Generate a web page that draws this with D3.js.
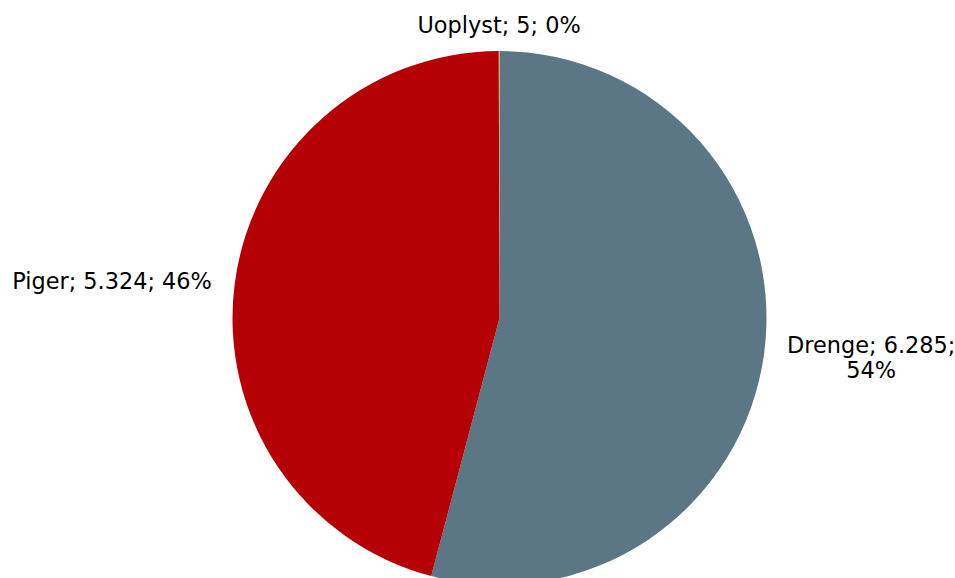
<!DOCTYPE html>
<html lang="da">
  <head>
    <meta charset="utf-8">
    <title>Drenge og piger</title>
    <script src="https://d3js.org/d3.v7.min.js"></script>
    <style>
      body { margin: 0; background: #fff; }
      text { font-family: Verdana, "DejaVu Sans", sans-serif; font-size: 22.4px; fill: #000; }
    </style>
  </head>
  <body>
    <svg id="chart" width="955" height="578"></svg>
    <script>
      // data
      var categories = ["Drenge", "Piger", "Uoplyst"];
      var values = [6285, 5324, 5];
      var percentLabels = ["54%", "46%", "0%"];
      var valueLabels = ["6.285", "5.324", "5"];
      var colors = ["#5b7786", "#b50005", "#d4a520"];

      var svg = d3.select("#chart");
      var cx = 499.5, cy = 318, radius = 267, labelRadius = 290;

      var pie = d3.pie().sort(null).value(function(d) { return d.value; });
      var arcs = pie(categories.map(function(c, i) {
        return { key: c, value: values[i], pct: percentLabels[i], shown: valueLabels[i], color: colors[i] };
      }));

      var arc = d3.arc().innerRadius(0).outerRadius(radius);

      var g = svg.append("g").attr("transform", "translate(" + cx + "," + cy + ")");

      g.selectAll("path").data(arcs).enter().append("path")
        .attr("d", arc)
        .attr("fill", function(d) { return d.data.color; });

      // labels outside the pie, anchored by which side they sit on
      arcs.forEach(function(d) {
        var mid = (d.startAngle + d.endAngle) / 2;
        var x = labelRadius * Math.sin(mid);
        var y = -labelRadius * Math.cos(mid);
        var txt = d.data.key + "; " + d.data.shown + "; " + d.data.pct;
        var t = g.append("text");

        if (Math.abs(x) < 20) {
          t.attr("text-anchor", "middle").attr("x", x).attr("y", y + 5).text(txt);
        } else if (x < 0) {
          t.attr("text-anchor", "end").attr("x", x).attr("y", y + 8).text(txt);
        } else {
          // right label wraps onto two lines, centred on each other
          var first = d.data.key + "; " + d.data.shown + ";";
          t.attr("text-anchor", "middle");
          var l1 = t.append("tspan").text(first);
          var w = l1.node().getComputedTextLength();
          l1.attr("x", x + w / 2).attr("y", y - 2);
          t.append("tspan").attr("x", x + w / 2).attr("y", y + 23).text(d.data.pct);
        }
      });
    </script>
  </body>
</html>
